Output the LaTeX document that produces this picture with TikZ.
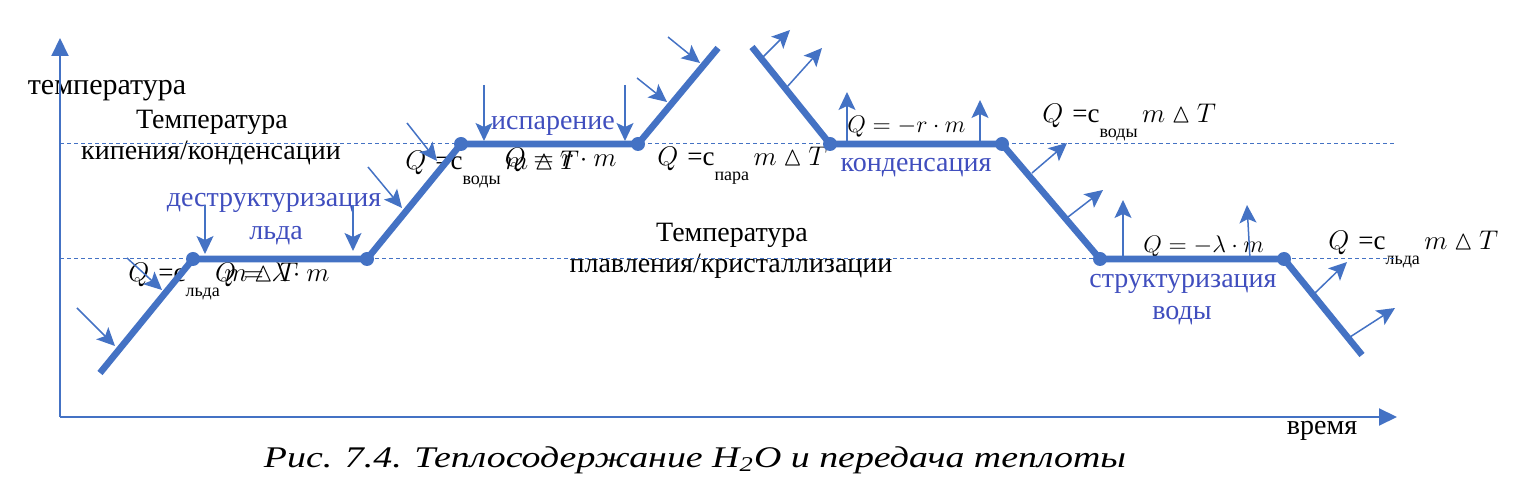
\RequirePackage{fix-cm}
\documentclass[tikz,border=0pt]{standalone}
\usepackage{amssymb}
\usepackage{fontspec}
\setmainfont{Liberation Serif}
\usetikzlibrary{arrows.meta}
\definecolor{lineblue}{HTML}{4472C4}
\definecolor{textblue}{RGB}{64,78,190}
\tikzset{
 curve/.style={lineblue, line width=3.3pt, line join=round},
 dot/.style={circle, fill=lineblue, inner sep=0pt, minimum size=7pt},
 heat/.style={lineblue, line width=0.75pt, -{Stealth[length=9pt,width=8.5pt,inset=2pt]}},
 level/.style={lineblue, line width=0.5pt, dash pattern=on 2pt off 1.5pt},
 axis/.style={lineblue, line width=1pt, -{Triangle[length=9pt,width=8.5pt]}},
 lbl/.style={inner sep=0pt, font=\fontsize{14}{16}\selectfont, anchor=base},
 blbl/.style={lbl, text=textblue},
 fml/.style={inner sep=0pt, font=\fontsize{13.5}{16}\selectfont, anchor=base west},
 sfml/.style={inner sep=0pt, font=\fontsize{12}{14}\selectfont, anchor=base west},
}
\newcommand\Qheat[1]{$Q$\,\,=c\raisebox{-0.55em}{\fontsize{9}{9}\selectfont #1}$\,m\mathbin{\vartriangle}T$}
\begin{document}
\begin{tikzpicture}[x=0.5pt,y=-0.5pt]
\useasboundingbox (0,0) rectangle (1525,501);
% text labels
\node[lbl, font=\fontsize{15}{17}\selectfont] (tlab) at (107,95) {температура};
\node[lbl] (tb1) at (212,129) {Температура};
\node[lbl] (tb2) at (211,160) {кипения/конденсации};
\node[lbl] (tm1) at (732,242) {Температура};
\node[lbl] (tm2) at (731,273) {плавления/кристаллизации};
\node[lbl] (time) at (1322,435) {время};
\node[blbl] (d1) at (274,207) {деструктуризация};
\node[blbl] (d2) at (276,240) {льда};
\node[blbl] (isp) at (553,130) {испарение};
\node[blbl] (kon) at (916,172) {конденсация};
\node[blbl] (s1) at (1183,288) {структуризация};
\node[blbl] (s2) at (1182,320) {воды};
% formulas
\node[fml] (f1) at (128,282) {\Qheat{льда}};
\node[fml, anchor=base east] (f2) at (330,282) {$Q = \lambda\cdot m$};
\node[fml] (f3) at (405,170) {\Qheat{воды}};
\node[fml, anchor=base east] (f4) at (617,167) {$Q = r\cdot m$};
\node[fml] (f5) at (657,166) {\Qheat{пара}};
\node[sfml] (f6) at (847,133) {$Q = -r\cdot m$};
\node[fml] (f7) at (1042,123) {\Qheat{воды}};
\node[sfml] (f8) at (1143,253) {$Q = -\lambda\cdot m$};
\node[fml] (f9) at (1328,250) {\Qheat{льда}};
% caption
\node[inner sep=0pt, anchor=base] (cap) at (695,467) {\resizebox{431pt}{\height}{\fontsize{15}{17}\selectfont\itshape Рис. 7.4. Теплосодержание H\textsubscript{2}O и передача теплоты}};
% axes
\coordinate (O) at (60,417);
\coordinate (ytop) at (60,38);
\coordinate (xend) at (1397,417);
\draw[axis] (O) -- (ytop);
\draw[axis] (O) -- (xend);
% level lines
\coordinate (b0) at (60,144); \coordinate (b1) at (1397,144);
\coordinate (m0) at (60,259); \coordinate (m1) at (1397,259);
\draw[level] (b0) -- (b1);
\draw[level] (m0) -- (m1);
% curves
\coordinate (h0) at (100,373);
\node[dot] (h1) at (193,259) {};
\node[dot] (h2) at (367,259) {};
\node[dot] (h3) at (461,144) {};
\node[dot] (h4) at (638,144) {};
\coordinate (h5) at (718,48);
\coordinate (c0) at (752,47);
\node[dot] (c1) at (830,144) {};
\node[dot] (c2) at (1002,144) {};
\node[dot] (c3) at (1100,259) {};
\node[dot] (c4) at (1284,259) {};
\coordinate (c5) at (1362,355);
\draw[curve] (h0) -- (h1.center) -- (h2.center) -- (h3.center) -- (h4.center) -- (h5);
\draw[curve] (c0) -- (c1.center) -- (c2.center) -- (c3.center) -- (c4.center) -- (c5);
% heating arrows
\foreach \i/\sx/\sy/\tx/\ty in {1/77/308/115/346, 2/127/258/162/290, 3/205/205/205/254, 4/353/205/353/251, 5/368/167/402/208, 6/407/123/437/161, 7/484/85/484/141, 8/625/85/625/141, 9/637/78/667/102, 10/668/37/700/63}{
  \coordinate (ha\i) at (\sx,\sy);
  \coordinate (hb\i) at (\tx,\ty);
  \draw[heat] (ha\i) -- (hb\i);
}
% cooling arrows
\foreach \i/\sx/\sy/\tx/\ty in {1/763/57/790/30, 2/787/87/822/48, 3/847/144/847/92, 4/980/144/980/100, 5/1032/173/1067/143, 6/1068/217/1103/190, 7/1123/259/1123/200, 8/1250/259/1247/205, 9/1315/293/1347/262, 10/1350/337/1395/308}{
  \coordinate (ca\i) at (\sx,\sy);
  \coordinate (cb\i) at (\tx,\ty);
  \draw[heat] (ca\i) -- (cb\i);
}
\end{tikzpicture}
\end{document}
